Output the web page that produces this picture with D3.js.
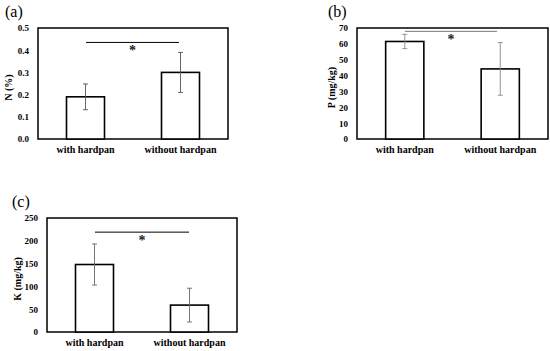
<!DOCTYPE html>
<html><head><meta charset="utf-8">
<script src="https://cdn.jsdelivr.net/npm/d3@7"></script>
<style>body{margin:0;background:#fff}svg{display:block}text{font-family:"Liberation Serif","Times New Roman",Times,serif}</style>
</head><body>
<svg id="c" width="550" height="351"></svg>
<script>
const categories = ["with hardpan", "without hardpan"];
const nValues = [0.19, 0.30];
const nErrors = [0.058, 0.09];
const nTicks = [0.0, 0.1, 0.2, 0.3, 0.4, 0.5];
const pValues = [61.5, 44.2];
const pErrors = [4.5, 16.6];
const pTicks = [0, 10, 20, 30, 40, 50, 60, 70];
const kValues = [148, 59];
const kErrors = [45, 37];
const kTicks = [0, 50, 100, 150, 200, 250];

const svg = d3.select("#c");
const FONT = "Liberation Serif";

function panel(o) {
  const g = svg.append("g");
  const x = d3.scaleBand().domain(categories).range([o.x0, o.x1]).paddingInner(0.6).paddingOuter(0.3);
  const y = d3.scaleLinear().domain([0, d3.max(o.ticks)]).range([o.y1, o.y0]);
  g.append("rect").attr("x", o.x0).attr("y", o.y0).attr("width", o.x1 - o.x0).attr("height", o.y1 - o.y0)
    .attr("fill", "none").attr("stroke", "#000").attr("stroke-width", 1.5);
  const ax = d3.axisLeft(y).tickValues(o.ticks).tickSize(0).tickPadding(9).tickFormat(o.fmt);
  const axg = g.append("g").attr("transform", `translate(${o.x0},0)`).call(ax);
  axg.select(".domain").remove();
  axg.attr("font-family", null);
  axg.selectAll("text").attr("font-family", FONT).attr("font-weight", "bold").attr("font-size", 9).attr("fill", "#000");
  g.selectAll(".bar").data(o.values).join("rect")
    .attr("x", (d, i) => x(categories[i])).attr("y", d => y(d))
    .attr("width", x.bandwidth()).attr("height", d => y(0) - y(d))
    .attr("fill", "#fff").attr("stroke", "#000").attr("stroke-width", 1.6);
  const eg = g.append("g").attr("stroke", o.errColor).attr("stroke-width", 0.9);
  o.values.forEach((v, i) => {
    const cx = x(categories[i]) + x.bandwidth() / 2;
    const e = o.errors[i];
    eg.append("line").attr("x1", cx).attr("x2", cx).attr("y1", y(v + e)).attr("y2", y(v - e));
    eg.append("line").attr("x1", cx - 2.5).attr("x2", cx + 2.5).attr("y1", y(v + e)).attr("y2", y(v + e));
    eg.append("line").attr("x1", cx - 2.5).attr("x2", cx + 2.5).attr("y1", y(v - e)).attr("y2", y(v - e));
  });
  g.append("line").attr("x1", o.sig[0]).attr("x2", o.sig[1]).attr("y1", y(o.sigY)).attr("y2", y(o.sigY))
    .attr("stroke", o.sigColor).attr("stroke-width", 1);
  g.append("text").attr("x", (o.sig[0] + o.sig[1]) / 2).attr("y", y(o.sigY) + 13)
    .attr("text-anchor", "middle").attr("font-family", FONT).attr("font-weight", "bold").attr("font-size", 14).attr("fill", "#222").text("*");
  categories.forEach((c, i) => {
    g.append("text").attr("x", x(c) + x.bandwidth() / 2).attr("y", o.y1 + 14)
      .attr("text-anchor", "middle").attr("font-family", FONT).attr("font-weight", "bold").attr("font-size", 10).text(c);
  });
  g.append("text").attr("transform", `translate(${o.ylx},${(o.y0 + o.y1) / 2 + 4}) rotate(-90)`)
    .attr("text-anchor", "middle").attr("font-family", FONT).attr("font-weight", "bold").attr("font-size", 10).text(o.ylabel);
  g.append("text").attr("x", o.tx).attr("y", o.ty).attr("font-family", FONT).attr("font-size", 16).text(o.tag);
}

panel({x0: 38, x1: 228, y0: 28, y1: 139, ticks: nTicks, values: nValues, errors: nErrors, fmt: d3.format(".1f"),
  errColor: "#555", sig: [86, 179], sigY: 0.435, sigColor: "#000", ylabel: "N (%)", ylx: 12, tag: "(a)", tx: 5, ty: 17});
panel({x0: 357, x1: 548, y0: 28, y1: 139, ticks: pTicks, values: pValues, errors: pErrors, fmt: d3.format("d"),
  errColor: "#888", sig: [405, 497], sigY: 67.9, sigColor: "#777", ylabel: "P (mg/kg)", ylx: 335, tag: "(b)", tx: 328, ty: 17});
panel({x0: 47, x1: 237, y0: 218, y1: 332, ticks: kTicks, values: kValues, errors: kErrors, fmt: d3.format("d"),
  errColor: "#666", sig: [95, 189], sigY: 219, sigColor: "#000", ylabel: "K (mg/kg)", ylx: 21, tag: "(c)", tx: 12, ty: 207});
</script>
</body></html>
